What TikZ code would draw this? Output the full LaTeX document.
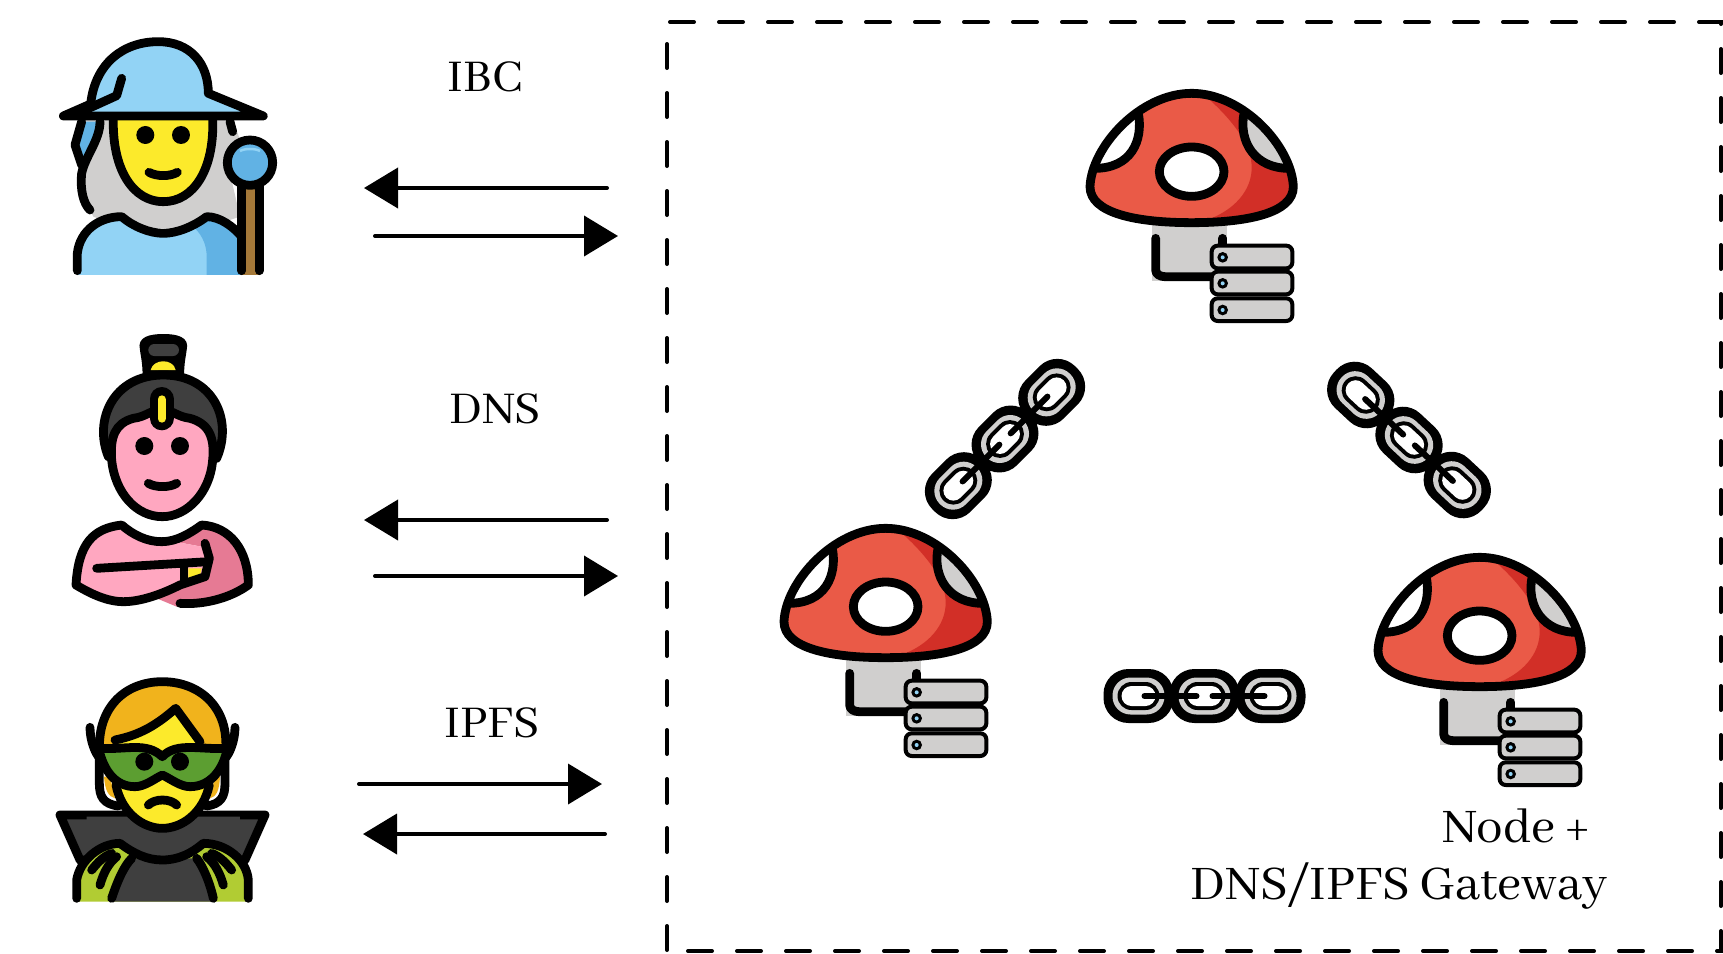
\documentclass[tikz,border=0pt]{standalone}
\usepackage{fontspec}
\setmainfont{Abhaya Libre}
\usetikzlibrary{arrows.meta}
\definecolor{lblue}{HTML}{92D3F5}
\definecolor{dblue}{HTML}{61B2E4}
\definecolor{hgrey}{HTML}{D0CFCE}
\definecolor{skin}{HTML}{FCEA2B}
\definecolor{brownw}{HTML}{A57939}
\definecolor{pinka}{HTML}{FFA7C0}
\definecolor{pinkb}{HTML}{E67A94}
\definecolor{darkg}{HTML}{3F3F3F}
\definecolor{hairo}{HTML}{F1B31C}
\definecolor{maskg}{HTML}{5C9E31}
\definecolor{limeg}{HTML}{B1CC33}
\definecolor{capr}{HTML}{EA5A47}
\definecolor{capd}{HTML}{D22F27}
\tikzset{
  ol/.style={draw=black,line width=8.8pt,line cap=round,line join=round},
  thinol/.style={draw=black,line width=4pt,line join=round},
  flow/.style={line width=4pt,line cap=round,-{Triangle[length=34pt,width=40pt]}},
  boundary/.style={line width=4pt,line cap=round,dash pattern=on 24pt off 25pt},
  lab/.style={font=\fontsize{50}{50}\selectfont,inner sep=0pt,anchor=center},
  labbig/.style={font=\fontsize{53}{53}\selectfont,inner sep=0pt,anchor=center},
  local/.style={x=0.33333pt,y=-0.33333pt}
}
\newcommand{\mushroom}[3]{%
\begin{scope}[shift={(#1,#2)},local,name prefix=#3-]
  \fill[hgrey] (275,465) rectangle (500,632);
  \draw[ol] (287,505) -- (287,600) to[out=-90,in=180] (315,620) -- (460,620);
  \draw[ol] (488,505) -- (488,525);
  \def\cappath{(90,350) .. controls (95,230) and (240,70) .. (395,70) .. controls (550,70) and (695,230) .. (700,350) .. controls (700,430) and (560,458) .. (395,458) .. controls (230,458) and (90,430) .. (90,350) -- cycle}
  \fill[capr] \cappath;
  \begin{scope}
    \clip \cappath;
    \fill[capd] (415,60) .. controls (500,130) and (580,220) .. (575,300) .. controls (570,380) and (500,430) .. (440,450) -- (720,470) -- (720,60) -- cycle;
    \fill[white] (235,130) .. controls (250,210) and (215,297) .. (100,295) -- (50,295) -- (50,50) -- (235,50) -- cycle;
    \fill[hgrey] (552,130) .. controls (535,215) and (585,297) .. (690,295) -- (740,295) -- (740,50) -- (552,50) -- cycle;
    \draw[ol] (235,130) .. controls (250,210) and (215,297) .. (100,295);
    \draw[ol] (552,130) .. controls (535,215) and (585,297) .. (690,295);
  \end{scope}
  \draw[ol] \cappath;
  \draw[ol,fill=white] (395,305) ellipse[x radius=97,y radius=74];
  \foreach \y in {527,605,685}{
    \draw[thinol,fill=hgrey,rounded corners=6pt] (455,\y) rectangle (697,\y+68);
    \fill (488,\y+35) circle[radius=16];
    \fill[lblue] (488,\y+35) circle[radius=6];
  }
\end{scope}}
\newcommand{\chainat}[3]{%
\begin{scope}[shift={(#1,#2)},rotate=#3]
  \foreach \c in {-66,0,66}{
    \fill[rounded corners=25pt] (\c-35,-27) rectangle (\c+35,27);
    \fill[hgrey,rounded corners=18pt] (\c-26,-18.5) rectangle (\c+26,18.5);
    \fill[rounded corners=14pt] (\c-21,-14) rectangle (\c+21,14);
    \fill[white,rounded corners=10pt] (\c-17,-10) rectangle (\c+17,10);
  }
  \draw[line width=6pt,line cap=round] (-60,0) -- (-8,0);
  \draw[line width=6pt,line cap=round] (8,0) -- (60,0);
\end{scope}}
\begin{document}
\begin{tikzpicture}[x=1pt,y=-1pt]
\useasboundingbox (0,0) rectangle (1723,953);
\fill[white] (0,0) rectangle (1723,953);
% boundary
\draw[boundary] (667,950) -- (667,22) -- (1721,22) -- (1721,951) -- (667,951);
% mage
\begin{scope}[local]
  \fill[hgrey] (240,360) -- (700,360) -- (720,420) -- (690,520) -- (720,650) -- (600,690) -- (360,680) -- (280,650) -- (240,570) -- (250,480) -- cycle;
  \fill[dblue] (245,365) -- (225,435) -- (245,495) -- (290,420) -- (300,365) -- cycle;
  \draw[ol] (245,365) -- (225,435) -- (245,495);
  \draw[ol] (300,365) .. controls (300,420) and (255,470) .. (245,520) .. controls (240,570) and (250,610) .. (270,630);
  \draw[ol] (690,365) -- (698,395);
  \fill[lblue] (232,825) -- (232,760) .. controls (240,690) and (300,650) .. (365,650) .. controls (400,680) and (450,700) .. (490,700) .. controls (530,700) and (580,680) .. (620,650) .. controls (660,650) and (700,680) .. (725,710) -- (725,825) -- cycle;
  \fill[dblue] (585,685) .. controls (610,710) and (620,740) .. (620,770) -- (620,825) -- (725,825) -- (725,710) .. controls (700,680) and (660,650) .. (620,650) -- cycle;
  \draw[ol] (232,812) -- (232,760) .. controls (240,690) and (300,650) .. (365,650) .. controls (400,680) and (450,700) .. (490,700) .. controls (530,700) and (580,680) .. (620,650) .. controls (660,650) and (700,680) .. (725,710);
  \draw[ol,fill=skin] (340,350) .. controls (335,510) and (400,605) .. (490,605) .. controls (580,605) and (645,510) .. (638,350);
  \fill (436,405) circle[radius=27]; \fill (543,405) circle[radius=27];
  \draw[ol] (447,517) .. controls (470,530) and (510,530) .. (532,517);
  \draw[ol,fill=lblue] (190,348) -- (272,312) .. controls (285,190) and (370,125) .. (475,125) .. controls (570,125) and (625,190) .. (625,280) -- (790,348) -- cycle;
  \draw[ol] (365,235) -- (350,287) -- (262,327);
  \fill[brownw] (725,540) rectangle (778,825);
  \draw[ol] (725,812) -- (725,540);
  \draw[ol] (778,812) -- (778,540);
  \draw[ol,fill=dblue] (750,488) circle[radius=68];
  \draw[lblue,line width=2.5pt] (720,453) .. controls (735,445) and (765,445) .. (780,453);
\end{scope}
% woman
\begin{scope}[shift={(0,320)},local]
  \fill (420,90) .. controls (410,50) and (450,42) .. (490,42) .. controls (530,42) and (570,50) .. (560,90) .. controls (558,110) and (552,125) .. (552,175) -- (428,175) .. controls (428,125) and (422,110) .. (420,90) -- cycle;
  \fill[darkg,rounded corners=6pt] (445,72) rectangle (537,108);
  \fill[skin] (452,150) .. controls (460,115) and (520,115) .. (527,150) -- cycle;
  \draw[ol,fill=darkg] (325,410) .. controls (280,300) and (340,165) .. (490,165) .. controls (640,165) and (700,300) .. (650,415) -- cycle;
  \draw[ol,fill=pinka] (335,420) .. controls (330,350) and (345,310) .. (400,295) .. controls (440,290) and (450,270) .. (485,270) .. controls (520,270) and (530,290) .. (570,295) .. controls (625,310) and (645,350) .. (638,420) .. controls (630,520) and (560,590) .. (487,590) .. controls (410,590) and (345,520) .. (335,420) -- cycle;
  \draw[line width=24pt,line cap=round] (485,237) -- (485,295);
  \draw[skin,line width=8pt,line cap=round] (485,238) -- (485,296);
  \fill (433,378) circle[radius=27]; \fill (540,378) circle[radius=27];
  \draw[ol] (445,490) .. controls (465,503) and (510,503) .. (530,490);
  \fill[pinkb] (540,668) -- (605,618) .. controls (690,620) and (745,690) .. (745,795) .. controls (690,835) and (600,855) .. (530,860) -- (470,835) -- (620,770) -- (625,715) -- (605,680) -- cycle;
  \fill[pinka] (228,795) -- (228,770) .. controls (235,670) and (280,625) .. (365,618) .. controls (400,645) and (440,665) .. (485,665) -- (540,668) -- (605,680) -- (620,720) -- (615,770) -- (540,795) .. controls (470,825) and (420,845) .. (370,845) .. controls (320,845) and (270,820) .. (228,795) -- cycle;
  \fill[skin] (565,745) -- (605,745) -- (600,765) -- (565,775) -- cycle;
  \draw[ol] (540,850) .. controls (610,855) and (690,835) .. (745,795) .. controls (745,690) and (690,620) .. (605,615) .. controls (570,640) and (530,665) .. (485,665) .. controls (440,665) and (400,645) .. (365,615) .. controls (280,625) and (235,670) .. (228,795) .. controls (270,820) and (320,845) .. (370,845) .. controls (420,845) and (480,825) .. (540,795) -- (615,770) -- (628,715) -- (615,670);
  \draw[ol] (290,745) -- (625,725);
  \draw[ol] (552,735) -- (552,790);
\end{scope}
% elf
\begin{scope}[shift={(0,650)},local]
  \draw[ol,fill=darkg] (240,630) -- (180,495) -- (795,495) -- (735,630) -- cycle;
  \fill[limeg] (230,755) -- (230,690) .. controls (240,630) and (300,580) .. (360,580) -- (610,580) .. controls (680,580) and (740,630) .. (745,690) -- (745,755) -- cycle;
  \fill[darkg] (335,755) .. controls (350,700) and (370,650) .. (395,625) -- (590,625) .. controls (610,650) and (630,700) .. (640,755) -- cycle;
  \fill[darkg] (260,600) -- (360,570) .. controls (400,600) and (440,630) .. (487,630) .. controls (535,630) and (575,600) .. (610,570) -- (720,600) -- (720,500) -- (260,500) -- cycle;
  \draw[ol] (230,745) -- (230,690) .. controls (240,630) and (300,580) .. (360,580) .. controls (400,610) and (440,630) .. (487,630) .. controls (535,630) and (575,610) .. (610,580) .. controls (680,580) and (740,630) .. (745,690) -- (745,745);
  \draw[ol] (335,745) .. controls (350,700) and (370,650) .. (395,625);
  \draw[ol] (640,745) .. controls (630,700) and (610,650) .. (590,625);
  \draw[ol] (275,660) .. controls (295,635) and (310,620) .. (335,610);
  \draw[ol] (300,705) .. controls (310,670) and (325,640) .. (350,620);
  \draw[ol] (695,660) .. controls (675,635) and (660,620) .. (635,610);
  \draw[ol] (670,705) .. controls (660,670) and (645,640) .. (620,620);
  \draw[ol] (298,320) -- (298,400) .. controls (298,440) and (310,462) .. (355,468);
  \draw[ol] (675,320) -- (675,400) .. controls (675,440) and (663,462) .. (620,468);
  \fill[hairo] (312,380) -- (330,380) -- (345,445) .. controls (325,440) and (315,420) .. (312,380) -- cycle;
  \fill[hairo] (660,380) -- (645,380) -- (630,445) .. controls (650,440) and (658,420) .. (660,380) -- cycle;
  \draw[ol,fill=hairo] (300,320) .. controls (285,180) and (370,95) .. (487,95) .. controls (605,95) and (695,180) .. (675,320) -- cycle;
  \draw[ol] (270,232) .. controls (270,270) and (285,310) .. (300,325);
  \draw[ol] (705,232) .. controls (705,270) and (690,310) .. (675,325);
  \fill[skin] (345,280) .. controls (420,250) and (470,225) .. (527,175) -- (610,285) -- (625,400) .. controls (610,480) and (550,535) .. (487,535) .. controls (420,535) and (365,480) .. (350,400) -- cycle;
  \draw[ol] (345,270) .. controls (420,255) and (470,225) .. (527,175) -- (600,275);
  \draw[ol] (348,405) .. controls (365,490) and (430,535) .. (487,535) .. controls (545,535) and (610,490) .. (628,405);
  \draw[ol,fill=maskg] (296,295) .. controls (380,300) and (440,275) .. (487,320) .. controls (530,275) and (600,300) .. (682,295) .. controls (670,360) and (630,410) .. (570,410) .. controls (540,410) and (510,385) .. (487,375) .. controls (465,385) and (435,410) .. (405,410) .. controls (345,410) and (310,360) .. (296,295) -- cycle;
  \fill (433,335) circle[radius=27]; \fill (540,335) circle[radius=27];
  \draw[ol] (445,465) .. controls (465,445) and (510,445) .. (530,465);
\end{scope}
% mushrooms
\mushroom{1060}{70}{top}
\mushroom{754}{505}{left}
\mushroom{1348}{534}{right}
% chains
\chainat{1005}{439}{45}
\chainat{1409}{440}{-43}
\chainat{1204.5}{696}{0}
% arrows
\coordinate (a1s) at (607,188); \coordinate (a1e) at (364,188);
\coordinate (a2s) at (375,236); \coordinate (a2e) at (618,236);
\coordinate (a3s) at (607,520); \coordinate (a3e) at (364,520);
\coordinate (a4s) at (375,576); \coordinate (a4e) at (618,576);
\coordinate (a5s) at (359,784); \coordinate (a5e) at (602,784);
\coordinate (a6s) at (605,834); \coordinate (a6e) at (363,834);
\draw[flow] (a1s) -- (a1e);
\draw[flow] (a2s) -- (a2e);
\draw[flow] (a3s) -- (a3e);
\draw[flow] (a4s) -- (a4e);
\draw[flow] (a5s) -- (a5e);
\draw[flow] (a6s) -- (a6e);
% labels
\node[lab] (ibc) at (485,77) {IBC};
\node[lab] (dns) at (495,409) {DNS};
\node[lab] (ipfs) at (492,723) {IPFS};
\node[labbig] (nodeplus) at (1516,826) {Node +};
\node[labbig] (gateway) at (1399,886) {DNS/IPFS Gateway};
\end{tikzpicture}
\end{document}
